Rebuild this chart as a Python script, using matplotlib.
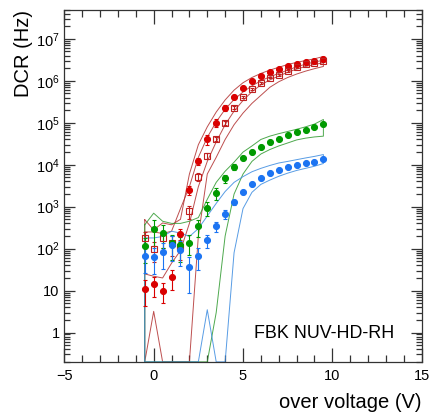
import numpy as np
import matplotlib
matplotlib.use("Agg")
import matplotlib.pyplot as plt
from matplotlib.ticker import MultipleLocator, LogLocator, FuncFormatter, NullFormatter

plt.rcParams['font.family'] = ['Liberation Sans', 'DejaVu Sans']

# over voltage points (V)
vov = [-0.5, 0.0, 0.5, 1.0, 1.5, 2.0, 2.5, 3.0, 3.5, 4.0, 4.5,
       5.0, 5.5, 6.0, 6.5, 7.0, 7.5, 8.0, 8.5, 9.0, 9.5]

# measured DCR (Hz)
dcr_red = [11, 14, 10, 21, 220, 2500, 1.2e4, 4.0e4, 1.0e5, 2.3e5, 4.2e5,
           6.8e5, 9.8e5, 1.3e6, 1.6e6, 1.9e6, 2.2e6, 2.5e6, 2.8e6, 3.0e6, 3.4e6]
dcr_red_open = [175, 98, 175, 135, 110, 770, 5200, 1.65e4, 4.2e4, 1.0e5, 2.3e5,
                4.1e5, 6.4e5, 9.0e5, 1.2e6, 1.4e6, 1.7e6, 2.1e6, 2.45e6, 2.7e6, 2.9e6]
dcr_green = [113, 295, 230, 135, 120, 140, 340, 930, 2100, 4700, 8900,
             1.45e4, 2.0e4, 2.7e4, 3.4e4, 4.2e4, 5.0e4, 5.9e4, 6.9e4, 7.8e4, 9.2e4]
dcr_blue = [65, 63, 83, 124, 94, 36, 68, 158, 340, 670, 1260,
            2240, 3550, 4800, 6200, 7500, 8700, 9700, 1.1e4, 1.18e4, 1.35e4]

# relative errors
err_red = [0.6, 0.5, 0.5, 0.5, 0.35, 0.22, 0.2, 0.25, 0.2, 0.15, 0.12,
           0.1, 0.08, 0.07, 0.06, 0.06, 0.05, 0.05, 0.05, 0.05, 0.05]
err_red_open = [0.4, 0.5, 0.4, 0.5, 0.5, 0.33, 0.2, 0.15, 0.12, 0.1, 0.08,
                0.07, 0.06, 0.05, 0.05, 0.05, 0.05, 0.05, 0.05, 0.05, 0.05]
err_green = [0.6, 0.6, 0.55, 0.6, 0.6, 0.5, 0.45, 0.37, 0.3, 0.22, 0.15,
             0.12, 0.1, 0.08, 0.07, 0.06, 0.05, 0.05, 0.05, 0.05, 0.05]
err_blue = [0.6, 0.6, 0.6, 0.6, 0.6, 0.75, 0.55, 0.35, 0.27, 0.22, 0.15,
            0.12, 0.1, 0.08, 0.07, 0.06, 0.05, 0.05, 0.05, 0.05, 0.05]

# simulated bands (upper / lower), 0 = below axis
red_hi = [490, 280, 410, 370, 500, 6000, 3.0e4, 8e4, 1.8e5, 3.5e5, 6e5,
          9e5, 1.2e6, 1.5e6, 1.8e6, 2.1e6, 2.45e6, 2.75e6, 3.05e6, 3.35e6, 3.8e6]
red_lo = [25, 22, 20, 45, 90, 400, 3000, 1.2e4, 3.5e4, 9e4, 1.9e5,
          3.4e5, 5.5e5, 8e5, 1.05e6, 1.3e6, 1.6e6, 1.9e6, 2.2e6, 2.45e6, 2.7e6]
red_open_hi = [250, 250, 230, 260, 900, 3000, 1.5e4, 4.5e4, 1.05e5, 2.1e5, 3.6e5,
               5.4e5, 7.6e5, 1.0e6, 1.25e6, 1.5e6, 1.8e6, 2.15e6, 2.5e6, 2.8e6, 3.1e6]
red_open_lo = [0, 3.2, 0, 0, 0, 0, 200, 6000, 1.5e4, 4e4, 9e4,
               1.7e5, 2.9e5, 4.5e5, 7e5, 9.5e5, 1.2e6, 1.45e6, 1.7e6, 1.95e6, 2.2e6]
green_hi = [370, 700, 450, 400, 400, 450, 550, 1500, 3800, 7000, 1.15e4,
            2.0e4, 2.8e4, 4.0e4, 4.8e4, 5.5e4, 6.2e4, 7.0e4, 8.0e4, 9.3e4, 1.2e5]
green_lo = [0, 0, 0, 0, 0, 0, 0, 0, 3, 200, 2000,
            6000, 1.2e4, 1.8e4, 2.3e4, 2.8e4, 3.3e4, 3.9e4, 4.3e4, 4.6e4, 4.8e4]
blue_hi = [180, 180, 195, 260, 235, 195, 300, 600, 1200, 2300, 3800,
           5200, 6800, 8200, 9600, 1.1e4, 1.2e4, 1.32e4, 1.45e4, 1.58e4, 1.75e4]
blue_lo = [0, 0, 0, 0, 0, 0, 0, 3.5, 0, 0, 80,
           900, 2200, 3400, 4300, 5300, 6300, 7300, 8200, 9200, 1.07e4]

c_red = '#d90000'
c_green = '#009a00'
c_blue = '#1c74f2'
YMIN, YMAX = 0.2, 5e7

fig = plt.figure(figsize=(4.32, 4.15), dpi=100)
ax = fig.add_axes([0.149, 0.128, 0.827, 0.849])
ax.set_yscale('log')

x = np.array(vov)


def band(hi, lo, col):
    # outline of the band as one closed curve
    xs = np.concatenate([x, x[::-1], x[:1]])
    ys = np.concatenate([hi, lo[::-1], hi[:1]])
    ys = np.clip(ys, YMIN, None)
    ax.plot(xs, ys, color=col, lw=0.7, alpha=0.85)


band(red_hi, red_lo, '#b23030')
band(red_open_hi, red_open_lo, '#b23030')
band(green_hi, green_lo, '#2f9a2f')
band(blue_hi, blue_lo, '#3b8be0')


def points(vals, rel, col, mk, mfc, ms):
    v = np.array(vals)
    e = np.array(rel) * v
    ax.errorbar(x, v, yerr=e, fmt=mk, color=col, mfc=mfc, mec=col,
                ms=ms, mew=0.8, elinewidth=0.8, capsize=1.5, capthick=0.8)


points(dcr_red, err_red, c_red, 'o', c_red, 4.3)
points(dcr_red_open, err_red_open, '#c02020', 's', 'none', 4.6)
points(dcr_green, err_green, c_green, 'o', c_green, 4.3)
points(dcr_blue, err_blue, c_blue, 'o', c_blue, 4.3)

ax.set_xlim(-5, 15)
ax.set_ylim(YMIN, YMAX)

ax.xaxis.set_major_locator(MultipleLocator(5))
ax.xaxis.set_minor_locator(MultipleLocator(1))
ax.yaxis.set_major_locator(LogLocator(base=10, numticks=20))
ax.yaxis.set_minor_locator(LogLocator(base=10, subs=np.arange(2, 10), numticks=20))
ax.yaxis.set_minor_formatter(NullFormatter())


def ylab(v, pos):
    if v < 0.99:
        return ''
    n = int(round(np.log10(v)))
    if n == 0:
        return '1'
    if n == 1:
        return '10'
    return r'$\mathdefault{10^{%d}}$' % n


ax.yaxis.set_major_formatter(FuncFormatter(ylab))
ax.xaxis.set_major_formatter(FuncFormatter(lambda v, p: '%d' % v if v >= 0 else '\u2212%d' % -v))

ax.tick_params(which='both', direction='in', top=True, right=True,
               labelsize=10.5, color='#333333')
ax.tick_params(which='major', length=10, width=0.9)
ax.tick_params(which='minor', length=5, width=0.9)
ax.tick_params(axis='y', which='major', length=8)
ax.tick_params(axis='y', which='minor', length=4)
ax.tick_params(axis='x', pad=5)
for s in ax.spines.values():
    s.set_color('#333333')
    s.set_linewidth(0.9)

ax.set_xlabel('over voltage (V)', loc='right', fontsize=14.5, labelpad=7)
ax.set_ylabel('DCR (Hz)', loc='top', fontsize=14.5, labelpad=2)

ax.text(0.53, 0.081, 'FBK NUV-HD-RH', transform=ax.transAxes,
        fontsize=12.9, va='center', ha='left')

fig.savefig('out.png', dpi=100)
